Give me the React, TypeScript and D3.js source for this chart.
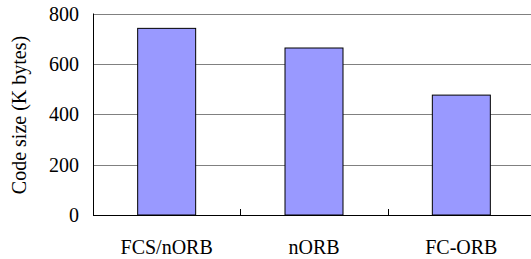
import React from "react";
import * as d3 from "d3";

const categories = ["FCS/nORB", "nORB", "FC-ORB"];
const values = [741, 663, 476];
const yTicks = [0, 200, 400, 600, 800];
const yLabel = "Code size (K bytes)";

const W = 531;
const H = 259;
const left = 93;
const right = 535;
const top = 13.5;
const bottom = 215;

export default function App() {
  const x = d3.scaleBand<string>().domain(categories).range([left, right]).paddingInner(0).paddingOuter(0);
  const y = d3.scaleLinear().domain([0, 800]).range([bottom, top]);
  const bw = 58;
  const boundaries = categories.map((_, i) => left + x.step() * i).concat([right]);
  return (
    <svg width={W} height={H} style={{ position: "absolute", left: 0, top: 0, background: "#fff" }}>
      <rect x={0} y={0} width={W} height={H} fill="#fff" />
      {yTicks.filter((t) => t > 0).map((t) => (
        <line key={t} x1={left} x2={right} y1={Math.round(y(t)) + 0.5} y2={Math.round(y(t)) + 0.5} stroke="#808080" strokeWidth={1} />
      ))}
      {categories.map((c, i) => {
        const cx = (x(c) as number) + x.bandwidth() / 2;
        return (
          <rect key={c} x={cx - bw / 2} y={y(values[i])} width={bw} height={bottom - y(values[i])} fill="#9999FF" stroke="#000" strokeWidth={1} />
        );
      })}
      <line x1={left + 0.5} x2={left + 0.5} y1={top} y2={bottom} stroke="#000" strokeWidth={1} />
      <line x1={left} x2={right} y1={bottom + 0.5} y2={bottom + 0.5} stroke="#000" strokeWidth={1} />
      {boundaries.map((b, i) => (
        <line key={i} x1={Math.round(b) + 0.5} x2={Math.round(b) + 0.5} y1={bottom} y2={bottom - 6} stroke="#000" strokeWidth={1} />
      ))}
      <g fontFamily="serif">
        {yTicks.map((t) => (
          <text key={t} x={79} y={y(t)} dy="0.35em" textAnchor="end" fontSize={20} fill="#000">
            {t}
          </text>
        ))}
        {categories.map((c) => (
          <text key={c} x={(x(c) as number) + x.bandwidth() / 2} y={254} textAnchor="middle" fontSize={20} fill="#000">
            {c}
          </text>
        ))}
        <text transform={`translate(26,${115}) rotate(-90)`} textAnchor="middle" fontSize={20} fill="#000">
          {yLabel}
        </text>
      </g>
    </svg>
  );
}
